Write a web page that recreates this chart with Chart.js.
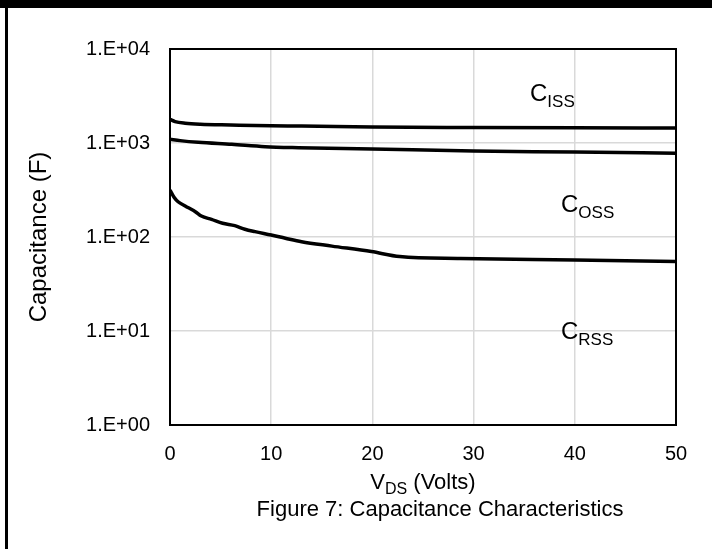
<!DOCTYPE html>
<html>
<head>
<meta charset="utf-8">
<script src="https://cdn.jsdelivr.net/npm/chart.js@4.4.1/dist/chart.umd.min.js"></script>
<style>
	html, body { margin: 0; padding: 0; background: #fff; }
	#wrap { position: relative; width: 712px; height: 549px; }
	#topbar { position: absolute; left: 0; top: 0; width: 712px; height: 8px; background: #000; }
	#leftbar { position: absolute; left: 5px; top: 0; width: 3px; height: 549px; background: #000; }
	canvas { position: absolute; left: 0; top: 0; }
</style>
</head>
<body>
<div id="wrap">
	<canvas id="capChart" width="712" height="549"></canvas>
	<div id="topbar"></div>
	<div id="leftbar"></div>
</div>
<script>
// values (VDS in volts, capacitance in F as labelled)
var cissVds = [0, 0.5, 1.5, 3, 6, 10, 13, 20, 30, 40, 50];
var cissCap = [1786, 1690, 1621, 1580, 1554, 1525, 1517, 1480, 1462, 1450, 1445];

var cossVds = [0, 1, 2.8, 6.1, 9.4, 12.7, 20, 30, 40, 50];
var cossCap = [1095, 1060, 1017, 968, 914, 892, 864, 822, 802, 777];

var crssVds = [0, 0.4, 0.8, 1.5, 2.5, 3.1, 4.1, 5.2, 6.4, 7.4, 8.4, 10, 11.4, 13, 16, 19.9, 22.7, 28.7, 40, 50];
var crssCap = [316, 265, 237, 214, 186, 167, 154, 140, 132, 121, 114, 105, 97, 89, 80, 70, 62, 59, 57, 55];

var yTicks = [1, 10, 100, 1000, 10000];
var xTicks = [0, 10, 20, 30, 40, 50];

var FONT = "'Liberation Sans', Arial, sans-serif";
var GRID = '#d9d9d9';

function toPoints(xs, ys) {
	return xs.map(function (x, i) {
		return { x: x, y: ys[i] };
	});
}

function lineSet(label, xs, ys) {
	return {
		label: label,
		data: toPoints(xs, ys),
		borderColor: '#000',
		backgroundColor: '#000',
		borderWidth: 3.5,
		pointRadius: 0,
		cubicInterpolationMode: 'monotone',
		fill: false
	};
}

// draws the frame round the plot, the curve labels and the titles
var decorations = {
	id: 'decorations',
	afterDatasetsDraw: function (chart) {
		var ctx = chart.ctx;
		var a = chart.chartArea;
		ctx.save();
		ctx.strokeStyle = '#000';
		ctx.lineWidth = 2;
		ctx.strokeRect(a.left, a.top, a.right - a.left, a.bottom - a.top);

		ctx.fillStyle = '#000';
		ctx.textBaseline = 'alphabetic';
		ctx.textAlign = 'left';

		function withSub(main, sub, x, y, big, small, drop) {
			ctx.font = big + 'px ' + FONT;
			ctx.fillText(main, x, y);
			var w = ctx.measureText(main).width;
			ctx.font = small + 'px ' + FONT;
			ctx.fillText(sub, x + w, y + drop);
			return w + ctx.measureText(sub).width;
		}
		withSub('C', 'ISS', 530, 101, 24, 17, 6);
		withSub('C', 'OSS', 561, 212, 24, 17, 6);
		withSub('C', 'RSS', 561, 339, 24, 17, 6);

		// x axis title with subscript
		ctx.font = '22px ' + FONT;
		var wv = ctx.measureText('V').width;
		ctx.font = '16px ' + FONT;
		var ws = ctx.measureText('DS').width;
		ctx.font = '22px ' + FONT;
		var wr = ctx.measureText(' (Volts)').width;
		var x0 = 423 - (wv + ws + wr) / 2;
		withSub('V', 'DS', x0, 489, 22, 16, 5);
		ctx.font = '22px ' + FONT;
		ctx.fillText(' (Volts)', x0 + wv + ws, 489);

		ctx.textAlign = 'center';
		ctx.font = '22px ' + FONT;
		ctx.fillText('Figure 7: Capacitance Characteristics', 440, 516);

		ctx.translate(39, 237);
		ctx.rotate(-Math.PI / 2);
		ctx.textBaseline = 'middle';
		ctx.font = '24px ' + FONT;
		ctx.fillText('Capacitance (F)', 0, 0);
		ctx.restore();
	}
};

var capData = {
	datasets: [
		lineSet('Ciss', cissVds, cissCap),
		lineSet('Coss', cossVds, cossCap),
		lineSet('Crss', crssVds, crssCap)
	]
};

var capOptions = {
	responsive: false,
	animation: false,
	layout: {
		padding: { left: 0, right: 36, top: 49, bottom: 0 }
	},
	scales: {
		x: {
			type: 'linear',
			min: 0,
			max: 50,
			afterBuildTicks: function (scale) {
				scale.ticks = xTicks.map(function (v) { return { value: v }; });
			},
			afterFit: function (scale) {
				scale.height = 549 - 425;
			},
			grid: { color: GRID, lineWidth: 1.5, drawTicks: false },
			border: { display: false },
			ticks: {
				color: '#000',
				padding: 17,
				maxRotation: 0,
				font: { family: FONT, size: 20 }
			}
		},
		y: {
			type: 'logarithmic',
			min: 1,
			max: 10000,
			afterBuildTicks: function (scale) {
				scale.ticks = yTicks.map(function (v) { return { value: v }; });
			},
			afterFit: function (scale) {
				scale.width = 170;
			},
			grid: { color: GRID, lineWidth: 1.5, drawTicks: false },
			border: { display: false },
			ticks: {
				color: '#000',
				padding: 20,
				font: { family: FONT, size: 20 },
				callback: function (value) {
					var e = Math.round(Math.log10(value));
					return '1.E+' + (e < 10 ? '0' : '') + e;
				}
			}
		}
	},
	plugins: {
		legend: { display: false },
		title: { display: false },
		tooltip: { enabled: false }
	}
};

var capCtx = document.getElementById('capChart');

var capChart = new Chart(capCtx, {
	type: 'line',
	data: capData,
	options: capOptions,
	plugins: [decorations]
});
</script>
</body>
</html>
